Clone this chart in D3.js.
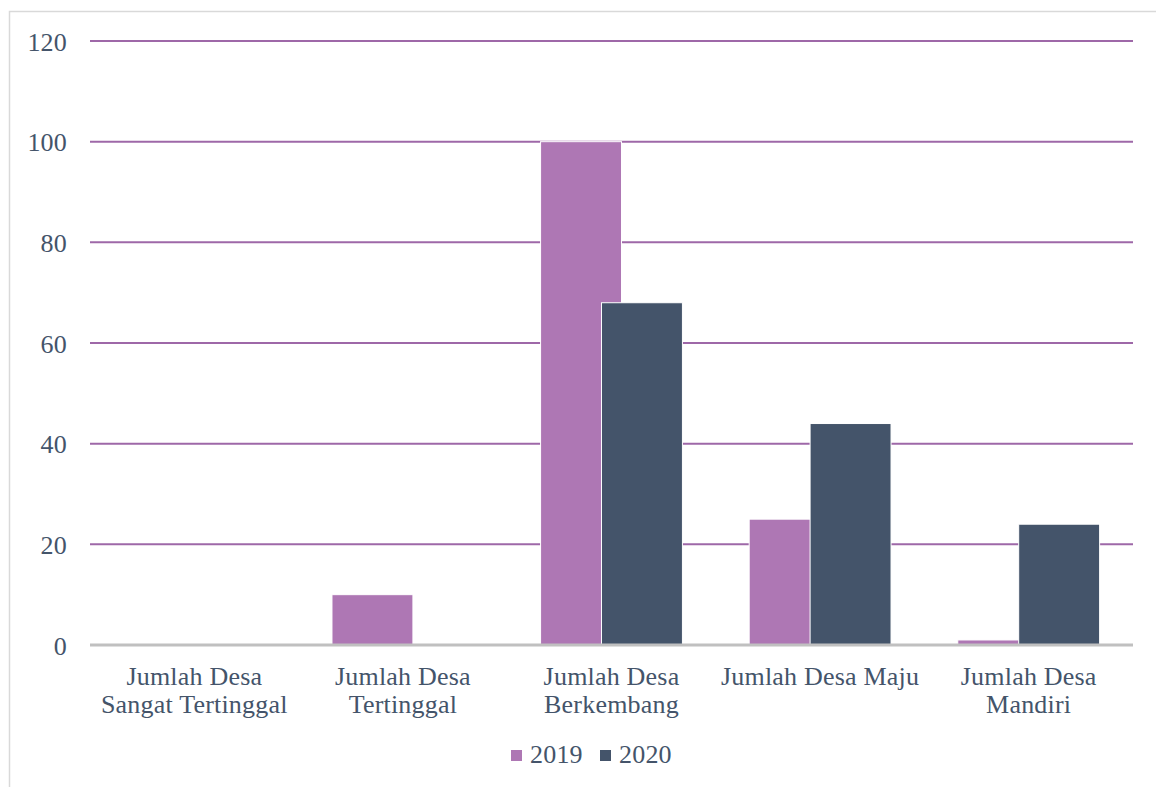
<!DOCTYPE html>
<html>
<head>
<meta charset="utf-8">
<script src="https://cdn.jsdelivr.net/npm/d3@7/dist/d3.min.js"></script>
<style>
  html, body { margin: 0; padding: 0; background: #fff; }
  svg { display: block; }
  text { font-family: "Liberation Serif", "DejaVu Serif", serif; fill: #44546A; letter-spacing: 0.2px; }
</style>
</head>
<body>
<svg id="chart" width="1156" height="787"></svg>
<script>
const categories = [
  "Jumlah Desa Sangat Tertinggal",
  "Jumlah Desa Tertinggal",
  "Jumlah Desa Berkembang",
  "Jumlah Desa Maju",
  "Jumlah Desa Mandiri"
];
const categoryLines = [
  ["Jumlah Desa", "Sangat Tertinggal"],
  ["Jumlah Desa", "Tertinggal"],
  ["Jumlah Desa", "Berkembang"],
  ["Jumlah Desa Maju"],
  ["Jumlah Desa", "Mandiri"]
];
const seriesNames = ["2019", "2020"];
const values2019 = [0, 10, 100, 25, 1];
const values2020 = [0, 0, 68, 44, 24];
const yTicks = [0, 20, 40, 60, 80, 100, 120];

(function () {
const seriesValues = [values2019, values2020];
const colors = ["#AE77B4", "#44546A"];
const FS = 26;

const svg = d3.select("#chart");
const W = 1156, H = 787;
const mLeft = 90, mRight = 1133, mTop = 41, mBottom = 645;

// outer border
svg.append("rect")
  .attr("x", 9.5).attr("y", 11.5)
  .attr("width", W + 20).attr("height", H + 20)
  .attr("fill", "none").attr("stroke", "#D9D9D9").attr("stroke-width", 1.5);

const x = d3.scaleBand().domain(categories).range([mLeft, mRight]).padding(0);
const y = d3.scaleLinear().domain([0, 120]).range([mBottom, mTop]);

// gridlines
svg.append("g").selectAll("line")
  .data(yTicks.filter(t => t > 0))
  .join("line")
  .attr("x1", mLeft).attr("x2", mRight)
  .attr("y1", d => y(d)).attr("y2", d => y(d))
  .attr("stroke", "#9E68A8").attr("stroke-width", 2);

// y tick labels
const yAxis = d3.axisLeft(y).tickValues(yTicks).tickSize(0).tickPadding(0);
const ga = svg.append("g").attr("transform", "translate(67,0)").call(yAxis);
ga.select(".domain").remove();
ga.selectAll("text")
  .attr("font-size", FS)
  .attr("fill", "#44546A")
  .attr("dy", "0.35em")
  .style("font-family", '"Liberation Serif", serif');

// bars
const band = x.bandwidth();
const barW = band * 0.388;
const step = band * 0.292;
const groupW = step + barW;
seriesValues.forEach((vals, si) => {
  svg.append("g").selectAll("rect")
    .data(vals.map((v, i) => ({ v, c: categories[i] })).filter(d => d.v > 0))
    .join("rect")
    .attr("x", d => x(d.c) + (band - groupW) / 2 + si * step)
    .attr("y", d => y(d.v))
    .attr("width", barW)
    .attr("height", d => y(0) - y(d.v))
    .attr("fill", colors[si])
    .attr("stroke", "#fff").attr("stroke-width", 1);
});

// baseline
svg.append("line")
  .attr("x1", mLeft).attr("x2", mRight)
  .attr("y1", y(0)).attr("y2", y(0))
  .attr("stroke", "#C0C0C0").attr("stroke-width", 3);

// category labels
const cl = svg.append("g");
categories.forEach((c, i) => {
  const t = cl.append("text")
    .attr("x", x(c) + band / 2)
    .attr("y", 685)
    .attr("text-anchor", "middle")
    .attr("font-size", FS);
  categoryLines[i].forEach((ln, j) => {
    t.append("tspan").attr("x", x(c) + band / 2).attr("y", 685 + j * 28).text(ln);
  });
});

// legend
const legendX = [511, 600];
seriesNames.forEach((s, i) => {
  svg.append("rect")
    .attr("x", legendX[i]).attr("y", 750)
    .attr("width", 11).attr("height", 11)
    .attr("fill", colors[i]);
  svg.append("text")
    .attr("x", legendX[i] + 19).attr("y", 763)
    .attr("font-size", FS)
    .text(s);
});
})();
</script>
</body>
</html>
